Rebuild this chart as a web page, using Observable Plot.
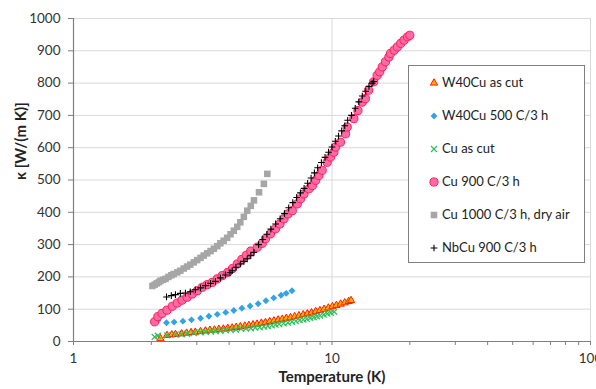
<!DOCTYPE html>
<html>
<head>
<meta charset="utf-8">
<script src="https://cdn.jsdelivr.net/npm/d3@7"></script>
<script src="https://cdn.jsdelivr.net/npm/@observablehq/plot@0.6"></script>
<style>
  body { margin: 0; background: #fff; }
  #wrap { position: relative; width: 596px; height: 389px; overflow: hidden; font-family: Lato, "Open Sans", sans-serif; }
  #legend { position: absolute; left: 408px; top: 65px; width: 175px; height: 196px; border: 1px solid #7f7f7f; background: #fff; }
  .row { position: absolute; left: 0; height: 16px; font-size: 13px; color: #222; white-space: nowrap; }
  .row svg { position: absolute; left: 18px; top: 0; }
  .row span { position: absolute; left: 33px; top: -1px; }
</style>
</head>
<body>
<div id="wrap"><div id="legend"></div></div>
<script>
// ---- data ----
const seriesNames = ["W40Cu as cut", "W40Cu 500 C/3 h", "Cu as cut", "Cu 900 C/3 h", "Cu 1000 C/3 h, dry air", "NbCu 900 C/3 h"];

const tW40cut = [2.17,2.30,2.40,2.48,2.62,2.74,2.85,2.96,3.10,3.24,3.37,3.51,3.65,3.80,3.95,4.11,4.26,4.42,4.60,4.77,4.95,5.13,5.33,5.53,5.74,5.96,6.19,6.42,6.66,6.91,7.17,7.45,7.74,8.03,8.33,8.65,8.98,9.32,9.68,10.04,10.4,10.8,11.2,11.6,11.85];
const kW40cut = [9,19,21,22,24,26,28,29,31,33,35,36,38,39,41,42,44,46,48,50,52,54,57,59,62,64,67,69,72,74,77,80,83,86,89,93,96,100,104,108,112,116,120,124,127];

const tW40500 = [2.12,2.29,2.45,2.65,2.86,3.10,3.34,3.60,3.88,4.17,4.48,4.82,5.18,5.55,5.95,6.35,6.65,7.0];
const kW40500 = [64,58,60,63,67,72,78,84,90,96,103,110,117,126,135,143,149,157];

const tCucut = [2.06,2.12,2.30,2.48,2.62,2.75,2.92,3.10,3.25,3.40,3.55,3.70,3.88,4.05,4.25,4.45,4.65,4.85,5.05,5.25,5.45,5.65,5.85,6.05,6.25,6.50,6.75,7.00,7.25,7.50,7.75,8.00,8.25,8.50,8.75,9.00,9.30,9.60,9.90,10.2];
const kCucut = [14,18,19,21,22,24,26,28,30,31,32,33,35,36,37,39,40,41,43,44,46,48,50,52,54,56,58,61,63,66,68,70,73,75,78,80,83,86,89,92];

const tCu900 = [2.06,2.12,2.20,2.30,2.41,2.52,2.63,2.75,2.88,3.01,3.15,3.29,3.44,3.60,3.76,3.95,4.12,4.30,4.48,4.66,4.85,5.14,5.37,5.53,5.78,6.05,6.29,6.52,6.75,7.02,7.34,7.56,7.79,8.15,8.40,8.65,8.90,9.16,9.58,9.87,10.17,10.32,10.78,11.29,11.45,12.15,12.6,13.09,13.46,13.85,14.5,14.95,15.3,15.65,16.1,16.6,16.85,17.4,17.9,18.45,19.0,19.6,20.0];
const kCu900 = [61,77,87,97,109,119,128,137,147,157,168,176,183,194,204,214,226,240,254,267,280,292,304,318,333,349,364,380,395,405,426,442,457,473,483,499,514,530,555,571,586,602,617,643,664,690,715,741,752,778,804,824,835,850,866,881,892,902,912,923,933,943,948];

const tCu1000 = [2.02,2.06,2.10,2.14,2.17,2.22,2.27,2.33,2.39,2.44,2.52,2.59,2.67,2.75,2.83,2.92,3.01,3.10,3.19,3.29,3.39,3.49,3.60,3.70,3.81,3.93,4.05,4.17,4.30,4.42,4.56,4.70,4.85,4.99,5.22,5.45,5.62];
const kCu1000 = [172,176,180,184,188,191,194,200,205,209,214,219,226,232,238,245,252,259,266,273,280,287,295,304,312,321,332,343,355,369,386,405,420,437,462,488,519];

const tNbCu = [2.29,2.39,2.48,2.59,2.71,2.83,2.96,3.10,3.24,3.39,3.54,3.70,3.87,4.03,4.11,4.25,4.42,4.56,4.70,4.85,4.99,5.2,5.4,5.6,5.8,6.05,6.3,6.55,6.8,7.05,7.3,7.55,7.8,8.05,8.3,8.55,8.8,9.1,9.4,9.7,10.0,10.3,10.6,10.9,11.2,11.5,11.9,12.3,12.7,13.1,13.5,13.9,14.3,14.5];
const kNbCu = [138,142,145,149,150,154,160,166,173,180,186,197,206,213,219,230,240,248,256,266,276,300,316,332,348,364,380,396,414,430,446,460,474,490,506,522,538,554,570,586,602,620,636,652,668,685,700,722,742,760,775,790,800,805];

const yTicks = [0,100,200,300,400,500,600,700,800,900,1000];
const xMajorTicks = [1,10,100];
const xMinorTicks = [1,2,3,4,5,6,7,8,9,10,20,30,40,50,60,70,80,90,100];

// ---- styles per series ----
const styles = [
  {symbol:"triangle", r:2.7, fill:"#ffb000", stroke:"#ff1a00", strokeWidth:1},
  {symbol:"diamond2", r:3.1, fill:"#33a3e8", stroke:"none"},
  {symbol:"times", r:2.8, fill:"none", stroke:"#2fbf5a", strokeWidth:1.2},
  {symbol:"circle", r:4.1, fill:"#ff6aa6", stroke:"#ff1f55", strokeWidth:1},
  {symbol:"square", r:3.7, fill:"#a6a6a6", stroke:"none"},
  {symbol:"plus", r:2.3, fill:"none", stroke:"#000", strokeWidth:1.1}
];
const tArr = [tW40cut, tW40500, tCucut, tCu900, tCu1000, tNbCu];
const kArr = [kW40cut, kW40500, kCucut, kCu900, kCu1000, kNbCu];
const tables = tArr.map((ts, i) => ts.map((t, j) => ({t, k: kArr[i][j]})));

const axisColor = "#7f7f7f";
const textColor = "#333333";

const chart = Plot.plot({
  width: 596,
  height: 389,
  marginLeft: 73,
  marginRight: 6,
  marginTop: 18,
  marginBottom: 48,
  style: {fontFamily: "Lato, 'Open Sans', sans-serif", fontSize: "13.5px", color: textColor, overflow: "hidden"},
  x: {type: "log", domain: [1, 100]},
  y: {domain: [0, 1000]},
  marks: [
    Plot.gridY(yTicks, {stroke: "#d9d9d9", strokeOpacity: 1, strokeWidth: 1}),
    Plot.gridX([10, 100], {stroke: "#d9d9d9", strokeOpacity: 1, strokeWidth: 1}),
    Plot.axisY(yTicks, {tickSize: 5, tickPadding: 8, stroke: axisColor, fill: textColor, tickFormat: d => String(d), label: null}),
    Plot.axisX(xMinorTicks, {tickSize: 4, tickFormat: () => "", stroke: axisColor, label: null}),
    Plot.axisX(xMajorTicks, {tickSize: 0, tickPadding: 12, fill: textColor, tickFormat: d => String(d), label: null}),
    Plot.ruleX([1], {stroke: axisColor, strokeWidth: 1.2}),
    Plot.ruleY([0], {stroke: axisColor, strokeWidth: 1.2}),
    ...tables.map((d, i) => Plot.dot(d, {x: "t", y: "k", ...styles[i]})),
    Plot.text(["Temperature (K)"], {frameAnchor: "bottom", dy: 40, fontWeight: "bold", fontSize: 15, fill: "#222"}),
    Plot.text(["κ [W/(m K)]"], {frameAnchor: "left", dx: -52, rotate: -90, fontWeight: "bold", fontSize: 15, fill: "#222"})
  ]
});
document.getElementById("wrap").prepend(chart);

// ---- legend ----
const legend = document.getElementById("legend");
const rowTops = [0, 1, 2, 3, 4, 5].map(i => 9 + i * 32.9);
seriesNames.forEach((name, i) => {
  const row = document.createElement("div");
  row.className = "row";
  row.style.top = rowTops[i] + "px";
  const s = styles[i];
  const symMap = {triangle: d3.symbolTriangle, diamond2: d3.symbolDiamond2, times: d3.symbolTimes, circle: d3.symbolCircle, square: d3.symbolSquare, plus: d3.symbolPlus};
  const path = d3.symbol(symMap[s.symbol], Math.PI * s.r * s.r)();
  row.innerHTML = `<svg width="14" height="16" viewBox="-7 -8 14 16"><path d="${path}" fill="${s.fill}" stroke="${s.stroke}" stroke-width="${s.strokeWidth || 0}"/></svg><span>${name}</span>`;
  legend.appendChild(row);
});
</script>
</body>
</html>
